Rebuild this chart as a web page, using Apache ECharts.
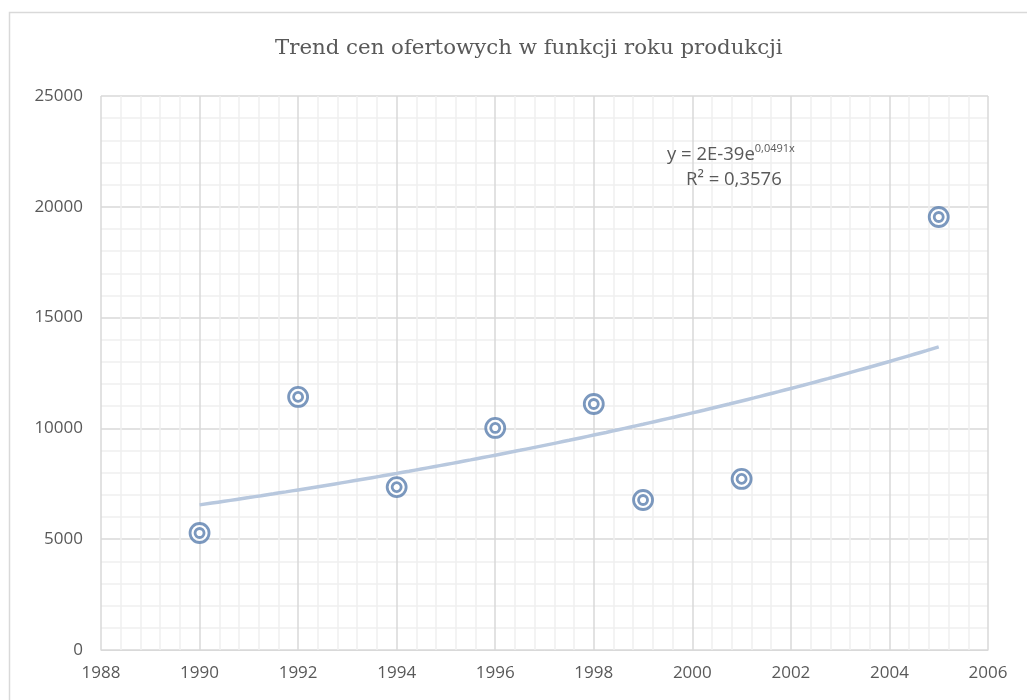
<!DOCTYPE html>
<html>
<head>
<meta charset="utf-8">
<script src="https://cdn.jsdelivr.net/npm/echarts@6/dist/echarts.min.js"></script>
<style>
  html, body { margin: 0; padding: 0; background: #fff; }
  #chart { width: 1027px; height: 700px; }
</style>
</head>
<body>
<div id="chart"></div>
<script>
// values
var years = [1990, 1992, 1994, 1996, 1998, 1999, 2001, 2005];
var prices = [5280, 11420, 7350, 10020, 11100, 6770, 7720, 19540];
var xTicks = [1988, 1990, 1992, 1994, 1996, 1998, 2000, 2002, 2004, 2006];
var yTicks = [0, 5000, 10000, 15000, 20000, 25000];

var points = years.map(function (y, i) { return [y, prices[i]]; });

// exponential trend fitted to the points (ln y = a + b x)
var n = years.length, sx = 0, sy = 0, sxx = 0, sxy = 0;
for (var i = 0; i < n; i++) {
    var lx = years[i] - 1990, ly = Math.log(prices[i]);
    sx += lx; sy += ly; sxx += lx * lx; sxy += lx * ly;
}
var b = (n * sxy - sx * sy) / (n * sxx - sx * sx);
var a = (sy - b * sx) / n;
var trend = [];
for (var t = years[0]; t <= years[n - 1]; t += 0.25) {
    trend.push([t, Math.exp(a + b * (t - 1990))]);
}

var gridMajor = '#d9d9d9';
var gridMinor = '#f0f0f0';
var txt = '#595959';
var markColor = '#5a7eae';
var labelFont = 'Open Sans';

var chart = echarts.init(document.getElementById('chart'));
chart.setOption({
    animation: false,
    title: {
        text: 'Trend cen ofertowych w funkcji roku produkcji',
        left: 270,
        top: 33,
        textStyle: {
            fontFamily: 'DejaVu Serif',
            fontWeight: 'normal',
            fontSize: 21.3,
            color: txt
        }
    },
    grid: {
        left: 101,
        right: 39,
        top: 96,
        bottom: 50
    },
    xAxis: {
        type: 'value',
        min: xTicks[0],
        max: xTicks[xTicks.length - 1],
        interval: 2,
        axisLine: { lineStyle: { color: gridMajor, width: 1 } },
        axisTick: { show: false },
        axisLabel: {
            fontFamily: labelFont,
            fontSize: 17,
            color: txt,
            margin: 15,
            formatter: function (v) { return String(v); }
        },
        splitLine: { lineStyle: { color: gridMajor, width: 1.5 } },
        minorTick: { show: false, splitNumber: 5 },
        minorSplitLine: { show: true, lineStyle: { color: gridMinor, width: 1.5 } }
    },
    yAxis: {
        type: 'value',
        min: yTicks[0],
        max: yTicks[yTicks.length - 1],
        interval: 5000,
        axisLine: { show: false },
        axisTick: { show: false },
        axisLabel: {
            fontFamily: labelFont,
            fontSize: 17,
            color: txt,
            margin: 18,
            formatter: function (v) { return String(v); }
        },
        splitLine: { lineStyle: { color: gridMajor, width: 1.5 } },
        minorTick: { show: false, splitNumber: 5 },
        minorSplitLine: { show: true, lineStyle: { color: gridMinor, width: 1.5 } }
    },
    series: [{
        type: 'line',
        data: trend,
        showSymbol: false,
        smooth: true,
        lineStyle: { color: '#b8c8de', width: 3.5 },
        z: 2
    }, {
        type: 'scatter',
        data: points,
        symbol: 'circle',
        symbolSize: 19,
        itemStyle: { color: '#fff', borderColor: markColor, borderWidth: 2.8 },
        z: 3
    }, {
        type: 'scatter',
        data: points,
        symbol: 'circle',
        symbolSize: 9,
        itemStyle: { color: '#fff', borderColor: markColor, borderWidth: 2.8 },
        z: 4
    }],
    graphic: [{
        type: 'rect',
        shape: { x: 9.5, y: 12.5, width: 1030, height: 700 },
        style: { fill: 'none', stroke: '#d9d9d9', lineWidth: 1.5 },
        silent: true
    }, {
        type: 'text',
        x: 667,
        y: 143,
        z: 100,
        style: {
            text: '{a|y = 2E-39e}{s|0,0491x}',
            fill: txt,
            rich: {
                a: { fontFamily: labelFont, fontSize: 18.5, fill: txt },
                s: { fontFamily: labelFont, fontSize: 11, fill: txt, verticalAlign: 'top', padding: [0, 0, 12, 0] }
            }
        },
        silent: true
    }, {
        type: 'text',
        x: 686,
        y: 170,
        z: 100,
        style: {
            text: 'R² = 0,3576',
            fontFamily: labelFont,
            fontSize: 18.5,
            fill: txt
        },
        silent: true
    }]
});
</script>
</body>
</html>
